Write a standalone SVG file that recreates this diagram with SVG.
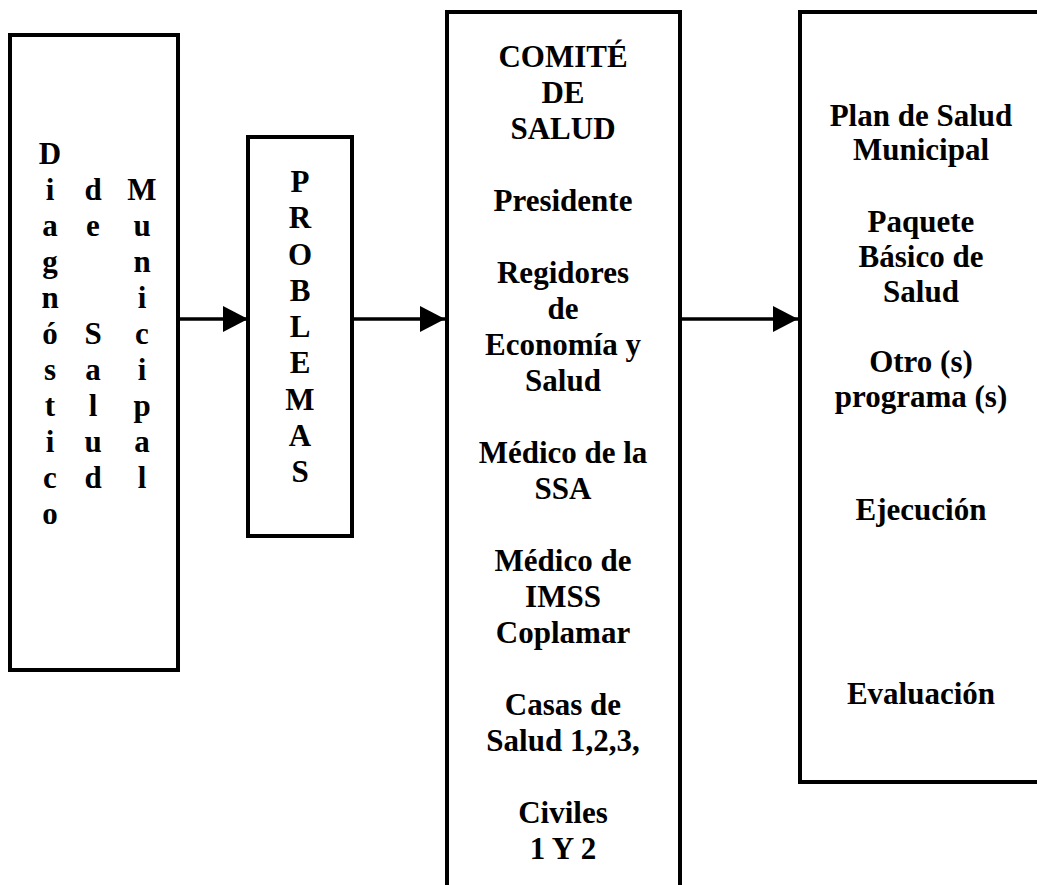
<svg xmlns="http://www.w3.org/2000/svg" width="1037" height="885" viewBox="0 0 1037 885">
<defs>
<style>
.box{fill:#fff;stroke:#000;stroke-width:4}
.t{font-family:"Liberation Serif","Times New Roman",serif;font-weight:bold;font-size:31px;fill:#000;text-anchor:middle}
.ln{stroke:#000;stroke-width:3.5;fill:none}
</style>
<marker id="ah" markerWidth="26" markerHeight="26" refX="25" refY="13" orient="auto" markerUnits="userSpaceOnUse">
<polygon points="0,0 25,13 0,26" fill="#000"/>
</marker>
</defs>
<rect width="1037" height="885" fill="#fff"/>
<g id="diagnostico">
<rect class="box" x="10" y="35" width="168" height="635"/>
<text class="t" x="50" y="164">D</text>
<text class="t" x="50" y="200">i</text>
<text class="t" x="50" y="236">a</text>
<text class="t" x="50" y="272">g</text>
<text class="t" x="50" y="308">n</text>
<text class="t" x="50" y="344">ó</text>
<text class="t" x="50" y="380">s</text>
<text class="t" x="50" y="416">t</text>
<text class="t" x="50" y="452">i</text>
<text class="t" x="50" y="488">c</text>
<text class="t" x="50" y="524">o</text>
<text class="t" x="93" y="200">d</text>
<text class="t" x="93" y="236">e</text>
<text class="t" x="93" y="344">S</text>
<text class="t" x="93" y="380">a</text>
<text class="t" x="93" y="416">l</text>
<text class="t" x="93" y="452">u</text>
<text class="t" x="93" y="488">d</text>
<text class="t" x="142" y="200">M</text>
<text class="t" x="142" y="236">u</text>
<text class="t" x="142" y="272">n</text>
<text class="t" x="142" y="308">i</text>
<text class="t" x="142" y="344">c</text>
<text class="t" x="142" y="380">i</text>
<text class="t" x="142" y="416">p</text>
<text class="t" x="142" y="452">a</text>
<text class="t" x="142" y="488">l</text>
</g>
<g id="problemas">
<rect class="box" x="248" y="137" width="104" height="399"/>
<text class="t" x="300" y="192">P</text>
<text class="t" x="300" y="228">R</text>
<text class="t" x="300" y="265">O</text>
<text class="t" x="300" y="301">B</text>
<text class="t" x="300" y="337">L</text>
<text class="t" x="300" y="373">E</text>
<text class="t" x="300" y="410">M</text>
<text class="t" x="300" y="446">A</text>
<text class="t" x="300" y="482">S</text>
</g>
<g id="comite">
<rect class="box" x="447" y="12" width="233" height="890"/>
<text class="t" x="563" y="67">COMITÉ</text>
<text class="t" x="563" y="103">DE</text>
<text class="t" x="563" y="139">SALUD</text>
<text class="t" x="563" y="211">Presidente</text>
<text class="t" x="563" y="283">Regidores</text>
<text class="t" x="563" y="319">de</text>
<text class="t" x="563" y="355">Economía y</text>
<text class="t" x="563" y="391">Salud</text>
<text class="t" x="563" y="463">Médico de la</text>
<text class="t" x="563" y="499">SSA</text>
<text class="t" x="563" y="571">Médico de</text>
<text class="t" x="563" y="607">IMSS</text>
<text class="t" x="563" y="643">Coplamar</text>
<text class="t" x="563" y="715">Casas de</text>
<text class="t" x="563" y="751">Salud 1,2,3,</text>
<text class="t" x="563" y="823">Civiles</text>
<text class="t" x="563" y="859">1 Y 2</text>
</g>
<g id="plan">
<rect class="box" x="800" y="12" width="260" height="770"/>
<text class="t" x="921" y="126">Plan de Salud</text>
<text class="t" x="921" y="160">Municipal</text>
<text class="t" x="921" y="232">Paquete</text>
<text class="t" x="921" y="267">Básico de</text>
<text class="t" x="921" y="302">Salud</text>
<text class="t" x="921" y="372">Otro (s)</text>
<text class="t" x="921" y="407">programa (s)</text>
<text class="t" x="921" y="520">Ejecución</text>
<text class="t" x="921" y="704">Evaluación</text>
</g>
<g id="connectors">
<line class="ln" x1="178" y1="319" x2="248" y2="319" marker-end="url(#ah)"/>
<line class="ln" x1="352" y1="319" x2="445" y2="319" marker-end="url(#ah)"/>
<line class="ln" x1="680" y1="319" x2="798" y2="319" marker-end="url(#ah)"/>
</g>
</svg>
